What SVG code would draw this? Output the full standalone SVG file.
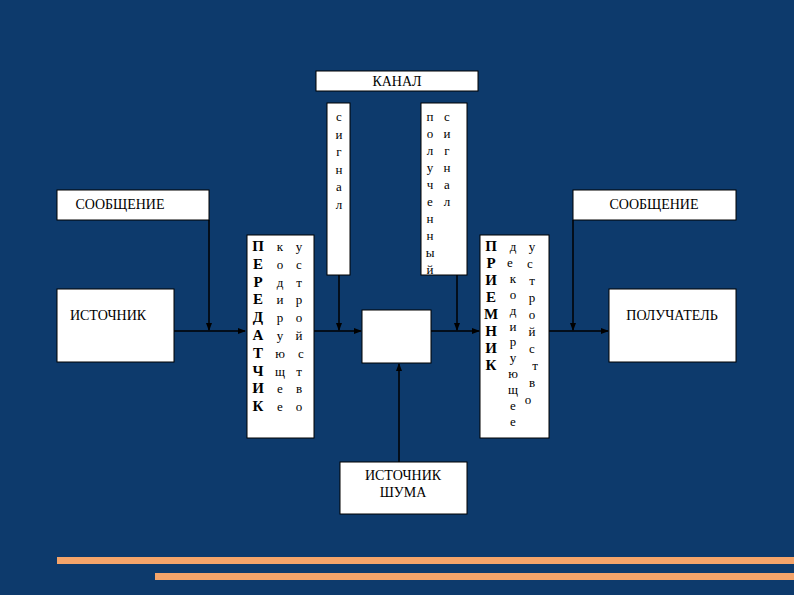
<svg xmlns="http://www.w3.org/2000/svg" width="794" height="595" viewBox="0 0 794 595">
<defs>
<marker id="ar" markerWidth="8" markerHeight="8" refX="7" refY="4" orient="auto" markerUnits="userSpaceOnUse"><path d="M0,1 L8,4 L0,7 Z" fill="#000"/></marker>
<style>
.b{fill:#fff;stroke:#000;stroke-width:1}
.t{font-family:"Liberation Serif",serif;font-size:13px;fill:#000}
.s{font-family:"Liberation Serif",serif;font-size:14px;fill:#000}
.bd{font-family:"Liberation Serif",serif;font-size:15px;font-weight:bold;fill:#000}
.c{stroke:#000;stroke-width:1.5;fill:none}
</style>
</defs>
<rect width="794" height="595" fill="#0d3a6c"/>
<g id="conn">
<path class="c" d="M174,331 H245" marker-end="url(#ar)"/>
<path class="c" d="M314,331 H361" marker-end="url(#ar)"/>
<path class="c" d="M431,331 H479" marker-end="url(#ar)"/>
<path class="c" d="M549,331 H608" marker-end="url(#ar)"/>
<path class="c" d="M209,220 V330" marker-end="url(#ar)"/>
<path class="c" d="M339,275 V330" marker-end="url(#ar)"/>
<path class="c" d="M457,275 V330" marker-end="url(#ar)"/>
<path class="c" d="M573,220 V330" marker-end="url(#ar)"/>
<path class="c" d="M399,462 V364" marker-end="url(#ar)"/>
</g>
<g id="kanal"><rect class="b" x="316" y="71" width="162" height="20"/><text class="s" x="397" y="86" text-anchor="middle">КАНАЛ</text></g>
<g id="signal"><rect class="b" x="327" y="103" width="23" height="172"/>
<text class="t" text-anchor="middle"><tspan x="339" y="121">с</tspan><tspan x="339" dy="17.5">и</tspan><tspan x="339" dy="17.5">г</tspan><tspan x="339" dy="17.5">н</tspan><tspan x="339" dy="17.5">а</tspan><tspan x="339" dy="17.5">л</tspan></text></g>
<g id="received"><rect class="b" x="421" y="103" width="46" height="172"/>
<text class="t" text-anchor="middle"><tspan x="430" y="121">п</tspan><tspan x="430" dy="17">о</tspan><tspan x="430" dy="17">л</tspan><tspan x="430" dy="17">у</tspan><tspan x="430" dy="17">ч</tspan><tspan x="430" dy="17">е</tspan><tspan x="430" dy="17">н</tspan><tspan x="430" dy="17">н</tspan><tspan x="430" dy="17">ы</tspan><tspan x="430" dy="17">й</tspan></text>
<text class="t" text-anchor="middle"><tspan x="447" y="121">с</tspan><tspan x="447" dy="17">и</tspan><tspan x="447" dy="17">г</tspan><tspan x="447" dy="17">н</tspan><tspan x="447" dy="17">а</tspan><tspan x="447" dy="17">л</tspan></text></g>
<g id="msg1"><rect class="b" x="57" y="190" width="152" height="30"/><text class="s" x="120" y="209" text-anchor="middle">СООБЩЕНИЕ</text></g>
<g id="src"><rect class="b" x="57" y="289" width="117" height="73"/><text class="s" x="108" y="320" text-anchor="middle">ИСТОЧНИК</text></g>
<g id="tx"><rect class="b" x="247" y="235" width="67" height="203"/>
<text class="bd" text-anchor="middle"><tspan x="258" y="251">П</tspan><tspan x="258" dy="17.8">Е</tspan><tspan x="258" dy="17.8">Р</tspan><tspan x="258" dy="17.8">Е</tspan><tspan x="258" dy="17.8">Д</tspan><tspan x="258" dy="17.8">А</tspan><tspan x="258" dy="17.8">Т</tspan><tspan x="258" dy="17.8">Ч</tspan><tspan x="258" dy="17.8">И</tspan><tspan x="258" dy="17.8">К</tspan></text>
<text class="t" text-anchor="middle"><tspan x="280" y="251">к</tspan><tspan x="280" dy="17.8">о</tspan><tspan x="280" dy="17.8">д</tspan><tspan x="280" dy="17.8">и</tspan><tspan x="280" dy="17.8">р</tspan><tspan x="280" dy="17.8">у</tspan><tspan x="280" dy="17.8">ю</tspan><tspan x="280" dy="17.8">щ</tspan><tspan x="280" dy="17.8">е</tspan><tspan x="280" dy="17.8">е</tspan></text>
<text class="t" text-anchor="middle"><tspan x="299" y="251">у</tspan><tspan x="299" dy="17.8">с</tspan><tspan x="299" dy="17.8">т</tspan><tspan x="299" dy="17.8">р</tspan><tspan x="299" dy="17.8">о</tspan><tspan x="299" dy="17.8">й</tspan><tspan x="301" dy="17.8">с</tspan><tspan x="299" dy="17.8">т</tspan><tspan x="299" dy="17.8">в</tspan><tspan x="299" dy="17.8">о</tspan></text></g>
<g id="chan"><rect class="b" x="362" y="310" width="69" height="53"/></g>
<g id="rx"><rect class="b" x="480" y="235" width="69" height="203"/>
<text class="bd" text-anchor="middle"><tspan x="491" y="251">П</tspan><tspan x="491" dy="17">Р</tspan><tspan x="491" dy="17">И</tspan><tspan x="491" dy="17">Е</tspan><tspan x="491" dy="17">М</tspan><tspan x="491" dy="17">Н</tspan><tspan x="491" dy="17">И</tspan><tspan x="491" dy="17">К</tspan></text>
<text class="t" text-anchor="middle"><tspan x="513" y="251">д</tspan><tspan x="510" dy="15.9">е</tspan><tspan x="513" dy="15.9">к</tspan><tspan x="513" dy="15.9">о</tspan><tspan x="513" dy="15.9">д</tspan><tspan x="513" dy="15.9">и</tspan><tspan x="513" dy="15.9">р</tspan><tspan x="513" dy="15.9">у</tspan><tspan x="513" dy="15.9">ю</tspan><tspan x="513" dy="15.9">щ</tspan><tspan x="513" dy="15.9">е</tspan><tspan x="513" dy="15.9">е</tspan></text>
<text class="t" text-anchor="middle"><tspan x="532" y="251">у</tspan><tspan x="530" dy="17">с</tspan><tspan x="532" dy="17">т</tspan><tspan x="532" dy="17">р</tspan><tspan x="532" dy="17">о</tspan><tspan x="532" dy="17">й</tspan><tspan x="532" dy="17">с</tspan><tspan x="535" dy="17">т</tspan><tspan x="532" dy="17">в</tspan><tspan x="528" dy="17">о</tspan></text></g>
<g id="msg2"><rect class="b" x="573" y="190" width="163" height="30"/><text class="s" x="654" y="209" text-anchor="middle">СООБЩЕНИЕ</text></g>
<g id="dst"><rect class="b" x="609" y="289" width="127" height="73"/><text class="s" x="672" y="320" text-anchor="middle">ПОЛУЧАТЕЛЬ</text></g>
<g id="noise"><rect class="b" x="340" y="462" width="127" height="52"/><text class="s" text-anchor="middle"><tspan x="403" y="480">ИСТОЧНИК</tspan><tspan x="403" y="497">ШУМА</tspan></text></g>
<rect x="57" y="557" width="737" height="7" fill="#f4a46a"/>
<rect x="155" y="573" width="639" height="7" fill="#f4a46a"/>
</svg>
